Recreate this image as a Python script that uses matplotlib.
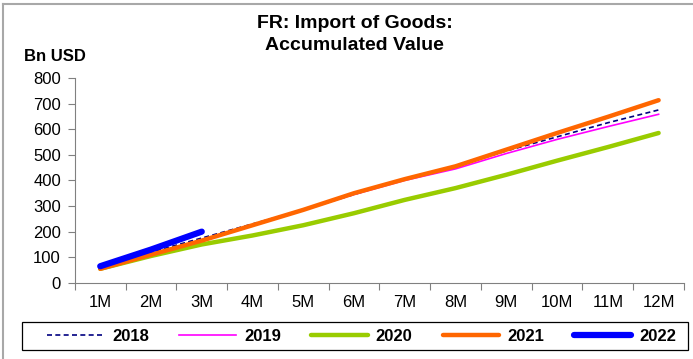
import matplotlib.pyplot as plt
from matplotlib.lines import Line2D
from matplotlib.patches import Rectangle

plt.rcParams['font.family'] = ['Liberation Sans', 'DejaVu Sans']

months = ['1M', '2M', '3M', '4M', '5M', '6M', '7M', '8M', '9M', '10M', '11M', '12M']
y2018 = [60, 120, 175, 230, 285, 345, 405, 455, 515, 570, 625, 675]
y2019 = [55, 110, 165, 225, 285, 345, 400, 445, 505, 560, 610, 658]
y2020 = [55, 105, 150, 185, 225, 272, 324, 370, 422, 477, 530, 585]
y2021 = [55, 110, 165, 225, 285, 350, 405, 455, 520, 585, 648, 713]
y2022 = [65, 130, 200]

fig = plt.figure(figsize=(6.93, 3.59), dpi=100)
ax = fig.add_axes([0.108, 0.212, 0.879, 0.571])

x = list(range(1, 13))
ax.plot(x, y2018, color='#000080', lw=1.2, ls=(0, (3, 2)), label='2018')
ax.plot(x, y2019, color='#ff00ff', lw=1.2, label='2019')
ax.plot(x, y2020, color='#99cc00', lw=3.2, label='2020', solid_capstyle='round')
ax.plot(x, y2021, color='#ff6600', lw=3.2, label='2021', solid_capstyle='round')
ax.plot(x[:len(y2022)], y2022, color='#0000ff', lw=4.5, label='2022', solid_capstyle='round')

ax.set_xlim(0.5, 12.5)
ax.set_ylim(0, 800)
ax.set_yticks(range(0, 801, 100))
ax.set_xticks([i + 0.5 for i in range(0, 13)])
ax.set_xticklabels([])
ax.set_xticks(x, minor=True)
ax.set_xticklabels(months, minor=True)
ax.tick_params(axis='x', which='minor', length=0, pad=9, labelsize=12)
ax.tick_params(axis='x', which='major', length=5, color='#808080')
ax.tick_params(axis='y', length=5, labelsize=12, color='#808080', pad=5)
for side in ['top', 'right']:
    ax.spines[side].set_visible(False)
for side in ['left', 'bottom']:
    ax.spines[side].set_color('#808080')

fig.text(0.512, 0.904, 'FR: Import of Goods:\nAccumulated Value', ha='center', va='center',
         fontsize=14, fontweight='bold', linespacing=1.35)
fig.text(0.035, 0.842, 'Bn USD', ha='left', va='center', fontsize=12, fontweight='bold')

# legend box under the plot, entries laid out without their own frame
fig.add_artist(Rectangle((22 / 693, 1 - 350 / 359), 666 / 693, 28 / 359,
                         transform=fig.transFigure, fill=False, edgecolor='black', lw=0.9))
fig.legend(loc='center', bbox_to_anchor=(0.522, 0.064), ncol=5, frameon=False,
           handlelength=3.4, handletextpad=0.5, columnspacing=1.8,
           borderaxespad=0, prop={'weight': 'bold', 'size': 12})

# outer border (left and top edges)
fig.add_artist(Line2D([0.005, 0.005], [0, 0.988], transform=fig.transFigure,
                      color='#a8a8a8', lw=1.5))
fig.add_artist(Line2D([0.005, 1], [0.988, 0.988], transform=fig.transFigure,
                      color='#a8a8a8', lw=1.5))

fig.savefig('out.png', dpi=100)
